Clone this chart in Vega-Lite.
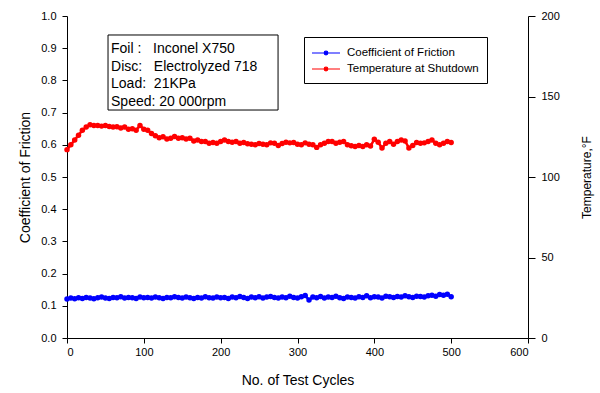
{
"$schema":"https://vega.github.io/schema/vega-lite/v6.json",
"width":461,"height":322,
"autosize":{"type":"none"},
"padding":{"left":67,"top":16,"right":72,"bottom":55},
"background":"white",
"config":{"view":{"stroke":null},"font":"Liberation Sans",
 "axis":{"labelFont":"Liberation Sans","labelFontSize":11,"labelColor":"#000","domainColor":"#000","tickColor":"#000","titleFont":"Liberation Sans","titleFontWeight":"normal","titleColor":"#000","grid":false,"tickSize":5,"labelPadding":3}},
"datasets":{
"cof":[{"c":0,"v":0.121},{"c":5,"v":0.124},{"c":10,"v":0.122},{"c":15,"v":0.125},{"c":20,"v":0.123},{"c":25,"v":0.126},{"c":30,"v":0.124},{"c":35,"v":0.122},{"c":40,"v":0.125},{"c":45,"v":0.127},{"c":50,"v":0.124},{"c":55,"v":0.123},{"c":60,"v":0.126},{"c":65,"v":0.125},{"c":70,"v":0.128},{"c":75,"v":0.124},{"c":80,"v":0.126},{"c":85,"v":0.125},{"c":90,"v":0.123},{"c":95,"v":0.127},{"c":100,"v":0.125},{"c":105,"v":0.126},{"c":110,"v":0.124},{"c":115,"v":0.127},{"c":120,"v":0.125},{"c":125,"v":0.123},{"c":130,"v":0.126},{"c":135,"v":0.125},{"c":140,"v":0.128},{"c":145,"v":0.126},{"c":150,"v":0.124},{"c":155,"v":0.127},{"c":160,"v":0.125},{"c":165,"v":0.123},{"c":170,"v":0.126},{"c":175,"v":0.124},{"c":180,"v":0.128},{"c":185,"v":0.125},{"c":190,"v":0.124},{"c":195,"v":0.127},{"c":200,"v":0.125},{"c":205,"v":0.126},{"c":210,"v":0.123},{"c":215,"v":0.127},{"c":220,"v":0.125},{"c":225,"v":0.129},{"c":230,"v":0.126},{"c":235,"v":0.123},{"c":240,"v":0.127},{"c":245,"v":0.125},{"c":250,"v":0.128},{"c":255,"v":0.124},{"c":260,"v":0.127},{"c":265,"v":0.129},{"c":270,"v":0.126},{"c":275,"v":0.124},{"c":280,"v":0.127},{"c":285,"v":0.125},{"c":290,"v":0.13},{"c":295,"v":0.126},{"c":300,"v":0.124},{"c":305,"v":0.128},{"c":310,"v":0.132},{"c":315,"v":0.118},{"c":320,"v":0.127},{"c":325,"v":0.125},{"c":330,"v":0.129},{"c":335,"v":0.124},{"c":340,"v":0.127},{"c":345,"v":0.126},{"c":350,"v":0.13},{"c":355,"v":0.125},{"c":360,"v":0.123},{"c":365,"v":0.127},{"c":370,"v":0.126},{"c":375,"v":0.124},{"c":380,"v":0.128},{"c":385,"v":0.126},{"c":390,"v":0.131},{"c":395,"v":0.125},{"c":400,"v":0.128},{"c":405,"v":0.127},{"c":410,"v":0.124},{"c":415,"v":0.13},{"c":420,"v":0.128},{"c":425,"v":0.126},{"c":430,"v":0.129},{"c":435,"v":0.127},{"c":440,"v":0.131},{"c":445,"v":0.128},{"c":450,"v":0.126},{"c":455,"v":0.13},{"c":460,"v":0.129},{"c":465,"v":0.127},{"c":470,"v":0.131},{"c":475,"v":0.133},{"c":480,"v":0.13},{"c":485,"v":0.135},{"c":490,"v":0.133},{"c":495,"v":0.136},{"c":500,"v":0.128}],
"temp":[{"c":0,"v":117},{"c":5,"v":120},{"c":10,"v":123},{"c":15,"v":126},{"c":20,"v":129},{"c":25,"v":131},{"c":30,"v":132.4},{"c":35,"v":132},{"c":40,"v":132},{"c":45,"v":131.6},{"c":50,"v":132},{"c":55,"v":131.4},{"c":60,"v":131},{"c":65,"v":131.2},{"c":70,"v":130.4},{"c":75,"v":131},{"c":80,"v":129.6},{"c":85,"v":130},{"c":90,"v":129},{"c":95,"v":132},{"c":100,"v":129.6},{"c":105,"v":129},{"c":110,"v":127},{"c":115,"v":125.6},{"c":120,"v":124.4},{"c":125,"v":125},{"c":130,"v":123.6},{"c":135,"v":124},{"c":140,"v":125.2},{"c":145,"v":124},{"c":150,"v":124.4},{"c":155,"v":123.6},{"c":160,"v":124},{"c":165,"v":122.4},{"c":170,"v":123},{"c":175,"v":122},{"c":180,"v":122},{"c":185,"v":121},{"c":190,"v":121.4},{"c":195,"v":121},{"c":200,"v":122},{"c":205,"v":123},{"c":210,"v":122},{"c":215,"v":121.6},{"c":220,"v":122},{"c":225,"v":121},{"c":230,"v":121.4},{"c":235,"v":120.6},{"c":240,"v":120.4},{"c":245,"v":120},{"c":250,"v":120.8},{"c":255,"v":120.4},{"c":260,"v":120},{"c":265,"v":121.2},{"c":270,"v":121},{"c":275,"v":119.6},{"c":280,"v":120.8},{"c":285,"v":121.6},{"c":290,"v":121.2},{"c":295,"v":121.4},{"c":300,"v":120.4},{"c":305,"v":120},{"c":310,"v":121.2},{"c":315,"v":120.4},{"c":320,"v":120},{"c":325,"v":118.4},{"c":330,"v":120},{"c":335,"v":121},{"c":340,"v":122},{"c":345,"v":122},{"c":350,"v":121},{"c":355,"v":121.6},{"c":360,"v":122},{"c":365,"v":120},{"c":370,"v":119.4},{"c":375,"v":119},{"c":380,"v":119.6},{"c":385,"v":119},{"c":390,"v":120},{"c":395,"v":119.2},{"c":400,"v":123.4},{"c":405,"v":121.6},{"c":410,"v":118},{"c":415,"v":121},{"c":420,"v":122},{"c":425,"v":120.4},{"c":430,"v":122},{"c":435,"v":123},{"c":440,"v":122.4},{"c":445,"v":118},{"c":450,"v":119.6},{"c":455,"v":121.4},{"c":460,"v":121},{"c":465,"v":121.2},{"c":470,"v":122},{"c":475,"v":123},{"c":480,"v":121},{"c":485,"v":120},{"c":490,"v":121},{"c":495,"v":122},{"c":500,"v":121.4}]
},
"layer":[
 {"layer":[
  {"data":{"name":"cof"},
   "mark":{"type":"line","strokeWidth":2.5,"point":{"filled":true,"size":30}},
   "encoding":{
    "x":{"field":"c","type":"quantitative","scale":{"domain":[0,600],"nice":false},"axis":{"values":[0,100,200,300,400,500,600],"title":"No. of Test Cycles","titleFontSize":14,"titlePadding":16}},
    "y":{"field":"v","type":"quantitative","scale":{"domain":[0,1],"nice":false},"axis":{"values":[0,0.1,0.2,0.3,0.4,0.5,0.6,0.7,0.8,0.9,1.0],"format":".1f","title":"Coefficient of Friction","titleFontSize":14,"labelPadding":6,"titlePadding":8,"labelOverlap":false}},
    "color":{"datum":"Coefficient of Friction","scale":{"domain":["Coefficient of Friction","Temperature at Shutdown"],"range":["#0000ff","#ff0000"]},
     "legend":{"orient":"none","legendX":237,"legendY":21,"strokeColor":"#000","padding":8,"title":null,
      "symbolType":"M-2,0H2M-0.26,0A0.26,0.26 0 1,0 0.26,0A0.26,0.26 0 1,0 -0.26,0","symbolSize":196,"symbolStrokeWidth":1.2,"symbolOffset":6,
      "labelFontSize":11.5,"labelFont":"Liberation Sans","labelColor":"#000","labelOffset":13,"rowPadding":2,
      "encode":{"symbols":{"update":{"fill":{"scale":"color","field":"value"}}}}}}}},
  {"data":{"values":[{}]},
   "mark":{"type":"rect","fill":"white","fillOpacity":0,"stroke":"#000","strokeWidth":1},
   "encoding":{"x":{"datum":53.4},"x2":{"datum":274.7},"y":{"datum":0.941,"axis":{"values":[0,0.1,0.2,0.3,0.4,0.5,0.6,0.7,0.8,0.9,1.0],"format":".1f","title":"Coefficient of Friction","titleFontSize":14,"labelPadding":6,"titlePadding":8,"labelOverlap":false}},"y2":{"datum":0.708}}},
  {"data":{"values":[{}]},
   "mark":{"type":"text","text":["Foil :\u00a0\u00a0\u00a0Inconel X750","Disc:\u00a0\u00a0\u00a0Electrolyzed 718","Load:\u00a0\u00a021KPa","Speed: 20 000rpm"],"align":"left","baseline":"top","font":"Liberation Sans","fontSize":14,"lineHeight":17.5,"color":"#000"},
   "encoding":{"x":{"datum":57.3},"y":{"datum":0.919,"axis":{"values":[0,0.1,0.2,0.3,0.4,0.5,0.6,0.7,0.8,0.9,1.0],"format":".1f","title":"Coefficient of Friction","titleFontSize":14,"labelPadding":6,"titlePadding":8,"labelOverlap":false}}}}
 ]},
 {"data":{"name":"temp"},
  "mark":{"type":"line","strokeWidth":2.5,"point":{"filled":true,"size":30}},
  "encoding":{
   "x":{"field":"c","type":"quantitative"},
   "y":{"field":"v","type":"quantitative","scale":{"domain":[0,200],"nice":false},"axis":{"orient":"right","values":[0,50,100,150,200],"title":"Temperature,°F","titleFontSize":12,"titleAngle":270,"tickSize":7,"labelPadding":6,"titlePadding":34}},
   "color":{"datum":"Temperature at Shutdown"}}}
],
"resolve":{"scale":{"y":"independent"}}
}
